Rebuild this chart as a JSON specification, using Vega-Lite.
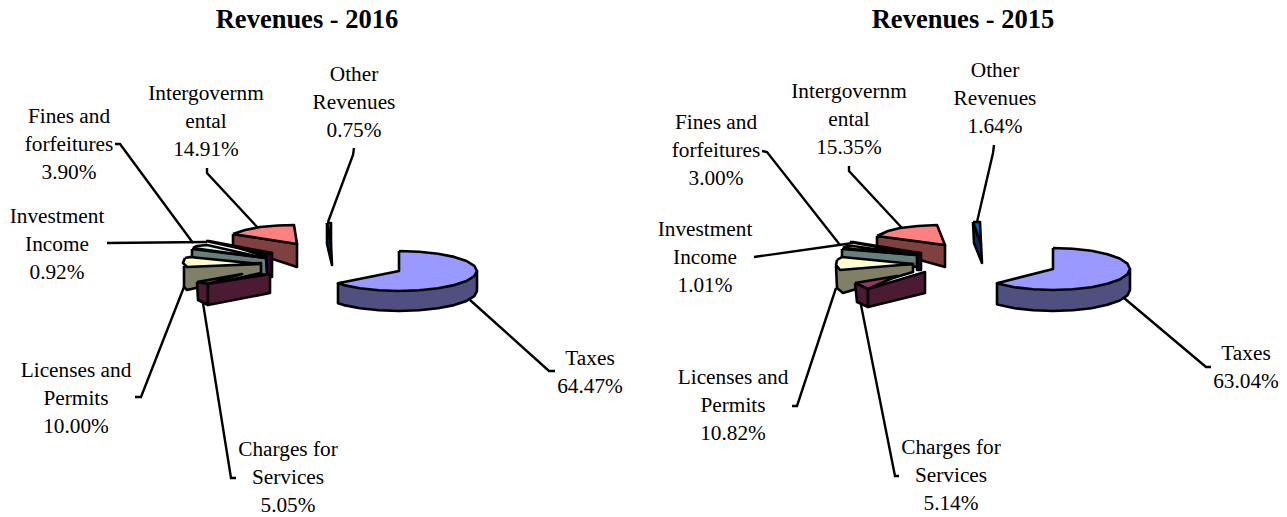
{"$schema":"https://vega.github.io/schema/vega-lite/v6.json","width":1287,"height":517,"padding":0,"autosize":{"type":"none"},"background":"white","view":{"stroke":null},
"datasets":{
"titles":[{"t":"Revenues - 2016","x":307,"y":20},{"t":"Revenues - 2015","x":963,"y":20}],
"labels":[
{"t":"Other\nRevenues\n0.75%","x":354,"y":75},{"t":"Intergovernm\nental\n14.91%","x":206,"y":94},{"t":"Fines and\nforfeitures\n3.90%","x":69,"y":117},{"t":"Investment\nIncome\n0.92%","x":57,"y":217},{"t":"Licenses and\nPermits\n10.00%","x":76,"y":371},{"t":"Charges for\nServices\n5.05%","x":288,"y":450},{"t":"Taxes\n64.47%","x":590,"y":359},
{"t":"Other\nRevenues\n1.64%","x":995,"y":71},{"t":"Intergovernm\nental\n15.35%","x":849,"y":92},{"t":"Fines and\nforfeitures\n3.00%","x":716,"y":123},{"t":"Investment\nIncome\n1.01%","x":705,"y":230},{"t":"Licenses and\nPermits\n10.82%","x":733,"y":378},{"t":"Charges for\nServices\n5.14%","x":951,"y":448},{"t":"Taxes\n63.04%","x":1246,"y":354}],
"leaders":[
{"l":"a1","n":0,"x":354,"y":148},{"l":"a1","n":1,"x":353,"y":155},{"l":"a1","n":2,"x":328,"y":222},
{"l":"a2","n":0,"x":207,"y":168},{"l":"a2","n":1,"x":207,"y":173},{"l":"a2","n":2,"x":258,"y":228},
{"l":"a3","n":0,"x":115,"y":144},{"l":"a3","n":1,"x":120,"y":144},{"l":"a3","n":2,"x":193,"y":243},
{"l":"a4","n":0,"x":107,"y":243},{"l":"a4","n":1,"x":207,"y":242},
{"l":"a5","n":0,"x":135,"y":397},{"l":"a5","n":1,"x":141,"y":397},{"l":"a5","n":2,"x":184,"y":287},
{"l":"a6","n":0,"x":203,"y":303},{"l":"a6","n":1,"x":231,"y":478},{"l":"a6","n":2,"x":236,"y":478},
{"l":"a7","n":0,"x":470,"y":300},{"l":"a7","n":1,"x":549,"y":371},{"l":"a7","n":2,"x":555,"y":371},
{"l":"b1","n":0,"x":994,"y":145},{"l":"b1","n":1,"x":993,"y":153},{"l":"b1","n":2,"x":977,"y":222},
{"l":"b2","n":0,"x":849,"y":166},{"l":"b2","n":1,"x":849,"y":171},{"l":"b2","n":2,"x":902,"y":228},
{"l":"b3","n":0,"x":762,"y":151},{"l":"b3","n":1,"x":767,"y":152},{"l":"b3","n":2,"x":840,"y":245},
{"l":"b4","n":0,"x":754,"y":257},{"l":"b4","n":1,"x":853,"y":243},
{"l":"b5","n":0,"x":792,"y":406},{"l":"b5","n":1,"x":797,"y":406},{"l":"b5","n":2,"x":836,"y":288},
{"l":"b6","n":0,"x":861,"y":305},{"l":"b6","n":1,"x":895,"y":476},{"l":"b6","n":2,"x":899,"y":476},
{"l":"b7","n":0,"x":1124,"y":298},{"l":"b7","n":1,"x":1206,"y":367},{"l":"b7","n":2,"x":1211,"y":367}],
"shapes":[
{"p":"a01","s":"Other side","n":0,"x":327,"y":223},{"p":"a01","s":"Other side","n":1,"x":331,"y":244},{"p":"a01","s":"Other side","n":2,"x":332,"y":265},{"p":"a01","s":"Other side","n":3,"x":327,"y":244},{"p":"a01","s":"Other side","n":4,"x":327,"y":223},
{"p":"a02","s":"Other","n":0,"x":327,"y":223},{"p":"a02","s":"Other","n":1,"x":331,"y":223},{"p":"a02","s":"Other","n":2,"x":331,"y":244},{"p":"a02","s":"Other","n":3,"x":327,"y":223},
{"p":"a03","s":"Intergovernmental side","n":0,"x":233,"y":234},{"p":"a03","s":"Intergovernmental side","n":1,"x":297,"y":244},{"p":"a03","s":"Intergovernmental side","n":2,"x":297,"y":267},{"p":"a03","s":"Intergovernmental side","n":3,"x":233,"y":246},{"p":"a03","s":"Intergovernmental side","n":4,"x":233,"y":234},
{"p":"a04","s":"Intergovernmental","n":0,"x":233,"y":234},{"p":"a04","s":"Intergovernmental","n":1,"x":245,"y":230},{"p":"a04","s":"Intergovernmental","n":2,"x":260,"y":227},{"p":"a04","s":"Intergovernmental","n":3,"x":278,"y":225.5},{"p":"a04","s":"Intergovernmental","n":4,"x":294,"y":225},{"p":"a04","s":"Intergovernmental","n":5,"x":297,"y":244},{"p":"a04","s":"Intergovernmental","n":6,"x":233,"y":234},
{"p":"a05","s":"Investment side","n":0,"x":266,"y":253},{"p":"a05","s":"Investment side","n":1,"x":272,"y":253},{"p":"a05","s":"Investment side","n":2,"x":272,"y":277},{"p":"a05","s":"Investment side","n":3,"x":266,"y":277},{"p":"a05","s":"Investment side","n":4,"x":266,"y":253},
{"p":"a06","s":"Investment","n":0,"x":206,"y":241},{"p":"a06","s":"Investment","n":1,"x":209,"y":241},{"p":"a06","s":"Investment","n":2,"x":272,"y":253},{"p":"a06","s":"Investment","n":3,"x":266,"y":254},{"p":"a06","s":"Investment","n":4,"x":206,"y":241},
{"p":"a07","s":"Fines side","n":0,"x":192,"y":249},{"p":"a07","s":"Fines side","n":1,"x":266,"y":258},{"p":"a07","s":"Fines side","n":2,"x":267,"y":275},{"p":"a07","s":"Fines side","n":3,"x":192,"y":262},{"p":"a07","s":"Fines side","n":4,"x":192,"y":249},
{"p":"a08","s":"Fines","n":0,"x":193,"y":248},{"p":"a08","s":"Fines","n":1,"x":197,"y":246},{"p":"a08","s":"Fines","n":2,"x":207,"y":245},{"p":"a08","s":"Fines","n":3,"x":265,"y":258},{"p":"a08","s":"Fines","n":4,"x":193,"y":248},
{"p":"a09","s":"Licenses side","n":0,"x":184,"y":266},{"p":"a09","s":"Licenses side","n":1,"x":261,"y":263},{"p":"a09","s":"Licenses side","n":2,"x":261,"y":273},{"p":"a09","s":"Licenses side","n":3,"x":187,"y":290},{"p":"a09","s":"Licenses side","n":4,"x":184,"y":287},{"p":"a09","s":"Licenses side","n":5,"x":184,"y":266},
{"p":"a10","s":"Licenses","n":0,"x":185,"y":258},{"p":"a10","s":"Licenses","n":1,"x":190,"y":257},{"p":"a10","s":"Licenses","n":2,"x":260,"y":264},{"p":"a10","s":"Licenses","n":3,"x":187,"y":267},{"p":"a10","s":"Licenses","n":4,"x":183,"y":263},{"p":"a10","s":"Licenses","n":5,"x":185,"y":258},
{"p":"a11","s":"Charges","n":0,"x":197,"y":282},{"p":"a11","s":"Charges","n":1,"x":242,"y":274},{"p":"a11","s":"Charges","n":2,"x":208,"y":284},{"p":"a11","s":"Charges","n":3,"x":197,"y":282},
{"p":"a12","s":"Charges side","n":0,"x":197,"y":282},{"p":"a12","s":"Charges side","n":1,"x":208,"y":284},{"p":"a12","s":"Charges side","n":2,"x":208,"y":305},{"p":"a12","s":"Charges side","n":3,"x":198,"y":300},{"p":"a12","s":"Charges side","n":4,"x":197,"y":282},
{"p":"a13","s":"Charges side","n":0,"x":208,"y":284},{"p":"a13","s":"Charges side","n":1,"x":270,"y":274},{"p":"a13","s":"Charges side","n":2,"x":270,"y":293},{"p":"a13","s":"Charges side","n":3,"x":208,"y":305},{"p":"a13","s":"Charges side","n":4,"x":208,"y":284},
{"p":"a14","s":"Taxes side","n":0,"x":338,"y":283.3},{"p":"a14","s":"Taxes side","n":1,"x":338,"y":303.3},{"p":"a14","s":"Taxes side","n":2,"x":343.8,"y":305.1},{"p":"a14","s":"Taxes side","n":3,"x":360,"y":308.3},{"p":"a14","s":"Taxes side","n":4,"x":378.8,"y":310.3},{"p":"a14","s":"Taxes side","n":5,"x":399,"y":311},{"p":"a14","s":"Taxes side","n":6,"x":419.2,"y":310.3},{"p":"a14","s":"Taxes side","n":7,"x":438,"y":308.3},{"p":"a14","s":"Taxes side","n":8,"x":454.2,"y":305.1},{"p":"a14","s":"Taxes side","n":9,"x":466.5,"y":301},{"p":"a14","s":"Taxes side","n":10,"x":474.3,"y":296.2},{"p":"a14","s":"Taxes side","n":11,"x":477,"y":291},{"p":"a14","s":"Taxes side","n":12,"x":477,"y":271},{"p":"a14","s":"Taxes side","n":13,"x":338,"y":283.3},
{"p":"a15","s":"Taxes","n":0,"x":399,"y":251},{"p":"a15","s":"Taxes","n":1,"x":419.2,"y":251.7},{"p":"a15","s":"Taxes","n":2,"x":438,"y":253.7},{"p":"a15","s":"Taxes","n":3,"x":454.2,"y":256.9},{"p":"a15","s":"Taxes","n":4,"x":466.5,"y":261},{"p":"a15","s":"Taxes","n":5,"x":474.3,"y":265.8},{"p":"a15","s":"Taxes","n":6,"x":477,"y":271},{"p":"a15","s":"Taxes","n":7,"x":474.3,"y":276.2},{"p":"a15","s":"Taxes","n":8,"x":466.5,"y":281},{"p":"a15","s":"Taxes","n":9,"x":454.2,"y":285.1},{"p":"a15","s":"Taxes","n":10,"x":438,"y":288.3},{"p":"a15","s":"Taxes","n":11,"x":419.2,"y":290.3},{"p":"a15","s":"Taxes","n":12,"x":399,"y":291},{"p":"a15","s":"Taxes","n":13,"x":378.8,"y":290.3},{"p":"a15","s":"Taxes","n":14,"x":360,"y":288.3},{"p":"a15","s":"Taxes","n":15,"x":343.8,"y":285.1},{"p":"a15","s":"Taxes","n":16,"x":338,"y":283.3},{"p":"a15","s":"Taxes","n":17,"x":399,"y":271},{"p":"a15","s":"Taxes","n":18,"x":399,"y":251},
{"p":"b01","s":"Other side","n":0,"x":973,"y":222},{"p":"b01","s":"Other side","n":1,"x":981,"y":244},{"p":"b01","s":"Other side","n":2,"x":982,"y":263},{"p":"b01","s":"Other side","n":3,"x":974,"y":243},{"p":"b01","s":"Other side","n":4,"x":973,"y":222},
{"p":"b02","s":"Other","n":0,"x":973,"y":222},{"p":"b02","s":"Other","n":1,"x":980,"y":222},{"p":"b02","s":"Other","n":2,"x":981,"y":244},{"p":"b02","s":"Other","n":3,"x":973,"y":222},
{"p":"b03","s":"Intergovernmental side","n":0,"x":877,"y":236},{"p":"b03","s":"Intergovernmental side","n":1,"x":945,"y":245},{"p":"b03","s":"Intergovernmental side","n":2,"x":945,"y":267},{"p":"b03","s":"Intergovernmental side","n":3,"x":877,"y":248},{"p":"b03","s":"Intergovernmental side","n":4,"x":877,"y":236},
{"p":"b04","s":"Intergovernmental","n":0,"x":877,"y":236},{"p":"b04","s":"Intergovernmental","n":1,"x":888,"y":231},{"p":"b04","s":"Intergovernmental","n":2,"x":900,"y":228},{"p":"b04","s":"Intergovernmental","n":3,"x":918,"y":226},{"p":"b04","s":"Intergovernmental","n":4,"x":937,"y":225},{"p":"b04","s":"Intergovernmental","n":5,"x":945,"y":245},{"p":"b04","s":"Intergovernmental","n":6,"x":877,"y":236},
{"p":"b05","s":"Investment side","n":0,"x":917,"y":253},{"p":"b05","s":"Investment side","n":1,"x":921,"y":253},{"p":"b05","s":"Investment side","n":2,"x":921,"y":270},{"p":"b05","s":"Investment side","n":3,"x":917,"y":270},{"p":"b05","s":"Investment side","n":4,"x":917,"y":253},
{"p":"b06","s":"Investment","n":0,"x":850,"y":242},{"p":"b06","s":"Investment","n":1,"x":853,"y":242},{"p":"b06","s":"Investment","n":2,"x":920,"y":253},{"p":"b06","s":"Investment","n":3,"x":915,"y":254},{"p":"b06","s":"Investment","n":4,"x":850,"y":242},
{"p":"b07","s":"Fines side","n":0,"x":842,"y":249},{"p":"b07","s":"Fines side","n":1,"x":917,"y":255},{"p":"b07","s":"Fines side","n":2,"x":917,"y":267},{"p":"b07","s":"Fines side","n":3,"x":842,"y":259},{"p":"b07","s":"Fines side","n":4,"x":842,"y":249},
{"p":"b08","s":"Fines","n":0,"x":843,"y":248},{"p":"b08","s":"Fines","n":1,"x":847,"y":246},{"p":"b08","s":"Fines","n":2,"x":853,"y":246},{"p":"b08","s":"Fines","n":3,"x":915,"y":255},{"p":"b08","s":"Fines","n":4,"x":843,"y":248},
{"p":"b09","s":"Licenses side","n":0,"x":836,"y":266},{"p":"b09","s":"Licenses side","n":1,"x":913,"y":264},{"p":"b09","s":"Licenses side","n":2,"x":913,"y":272},{"p":"b09","s":"Licenses side","n":3,"x":843,"y":293},{"p":"b09","s":"Licenses side","n":4,"x":837,"y":288},{"p":"b09","s":"Licenses side","n":5,"x":836,"y":266},
{"p":"b10","s":"Licenses","n":0,"x":837,"y":260},{"p":"b10","s":"Licenses","n":1,"x":842,"y":257},{"p":"b10","s":"Licenses","n":2,"x":913,"y":264},{"p":"b10","s":"Licenses","n":3,"x":840,"y":270},{"p":"b10","s":"Licenses","n":4,"x":836,"y":265},{"p":"b10","s":"Licenses","n":5,"x":837,"y":260},
{"p":"b11","s":"Charges","n":0,"x":855,"y":283},{"p":"b11","s":"Charges","n":1,"x":897,"y":276},{"p":"b11","s":"Charges","n":2,"x":868,"y":289},{"p":"b11","s":"Charges","n":3,"x":855,"y":283},
{"p":"b12","s":"Charges side","n":0,"x":855,"y":283},{"p":"b12","s":"Charges side","n":1,"x":868,"y":289},{"p":"b12","s":"Charges side","n":2,"x":868,"y":307},{"p":"b12","s":"Charges side","n":3,"x":857,"y":302},{"p":"b12","s":"Charges side","n":4,"x":855,"y":283},
{"p":"b13","s":"Charges side","n":0,"x":868,"y":289},{"p":"b13","s":"Charges side","n":1,"x":925,"y":272},{"p":"b13","s":"Charges side","n":2,"x":925,"y":293},{"p":"b13","s":"Charges side","n":3,"x":868,"y":307},{"p":"b13","s":"Charges side","n":4,"x":868,"y":289},
{"p":"b14","s":"Taxes side","n":0,"x":997,"y":283.3},{"p":"b14","s":"Taxes side","n":1,"x":997,"y":304.3},{"p":"b14","s":"Taxes side","n":2,"x":998.6,"y":304.8},{"p":"b14","s":"Taxes side","n":3,"x":1014.5,"y":308.2},{"p":"b14","s":"Taxes side","n":4,"x":1033.1,"y":310.3},{"p":"b14","s":"Taxes side","n":5,"x":1053,"y":311},{"p":"b14","s":"Taxes side","n":6,"x":1072.9,"y":310.3},{"p":"b14","s":"Taxes side","n":7,"x":1091.5,"y":308.2},{"p":"b14","s":"Taxes side","n":8,"x":1107.4,"y":304.8},{"p":"b14","s":"Taxes side","n":9,"x":1119.7,"y":300.5},{"p":"b14","s":"Taxes side","n":10,"x":1127.4,"y":295.4},{"p":"b14","s":"Taxes side","n":11,"x":1130,"y":290},{"p":"b14","s":"Taxes side","n":12,"x":1130,"y":269},{"p":"b14","s":"Taxes side","n":13,"x":997,"y":283.3},
{"p":"b15","s":"Taxes","n":0,"x":1053,"y":248},{"p":"b15","s":"Taxes","n":1,"x":1072.9,"y":248.7},{"p":"b15","s":"Taxes","n":2,"x":1091.5,"y":250.8},{"p":"b15","s":"Taxes","n":3,"x":1107.4,"y":254.2},{"p":"b15","s":"Taxes","n":4,"x":1119.7,"y":258.5},{"p":"b15","s":"Taxes","n":5,"x":1127.4,"y":263.6},{"p":"b15","s":"Taxes","n":6,"x":1130,"y":269},{"p":"b15","s":"Taxes","n":7,"x":1127.4,"y":274.4},{"p":"b15","s":"Taxes","n":8,"x":1119.7,"y":279.5},{"p":"b15","s":"Taxes","n":9,"x":1107.4,"y":283.8},{"p":"b15","s":"Taxes","n":10,"x":1091.5,"y":287.2},{"p":"b15","s":"Taxes","n":11,"x":1072.9,"y":289.3},{"p":"b15","s":"Taxes","n":12,"x":1053,"y":290},{"p":"b15","s":"Taxes","n":13,"x":1033.1,"y":289.3},{"p":"b15","s":"Taxes","n":14,"x":1014.5,"y":287.2},{"p":"b15","s":"Taxes","n":15,"x":998.6,"y":283.8},{"p":"b15","s":"Taxes","n":16,"x":997,"y":283.3},{"p":"b15","s":"Taxes","n":17,"x":1053,"y":269},{"p":"b15","s":"Taxes","n":18,"x":1053,"y":248}
]},
"encoding":{"x":{"field":"x","type":"quantitative","scale":{"domain":[0,1287],"nice":false,"zero":false},"axis":null},"y":{"field":"y","type":"quantitative","scale":{"domain":[517,0],"nice":false,"zero":false},"axis":null}},
"layer":[
{"data":{"name":"leaders"},"mark":{"type":"line","stroke":"black","strokeWidth":2.4,"clip":false},"encoding":{"detail":{"field":"l"},"order":{"field":"n"}}},
{"data":{"name":"shapes"},"mark":{"type":"line","filled":true,"stroke":"black","strokeWidth":2.6,"strokeJoin":"round","fillOpacity":1},"encoding":{"detail":{"field":"p"},"order":{"field":"n"},"color":{"field":"s","type":"nominal","legend":null,"scale":{"domain":["Taxes","Taxes side","Intergovernmental","Intergovernmental side","Other","Other side","Fines","Fines side","Investment","Investment side","Licenses","Licenses side","Charges","Charges side"],"range":["#9999FF","#4F4F80","#FF8080","#804040","#0066CC","#003366","#CCFFFF","#668080","#660066","#330033","#FFFFCC","#808066","#993366","#4D1A33"]}}}},
{"data":{"name":"labels"},"mark":{"type":"text","font":"Liberation Serif","fontSize":21.3,"lineBreak":"\n","lineHeight":28,"align":"center","baseline":"middle","fill":"black"},"encoding":{"text":{"field":"t"}}},
{"data":{"name":"titles"},"mark":{"type":"text","font":"Liberation Serif","fontSize":26.5,"fontWeight":"bold","align":"center","baseline":"middle","fill":"black"},"encoding":{"text":{"field":"t"}}}
]}
